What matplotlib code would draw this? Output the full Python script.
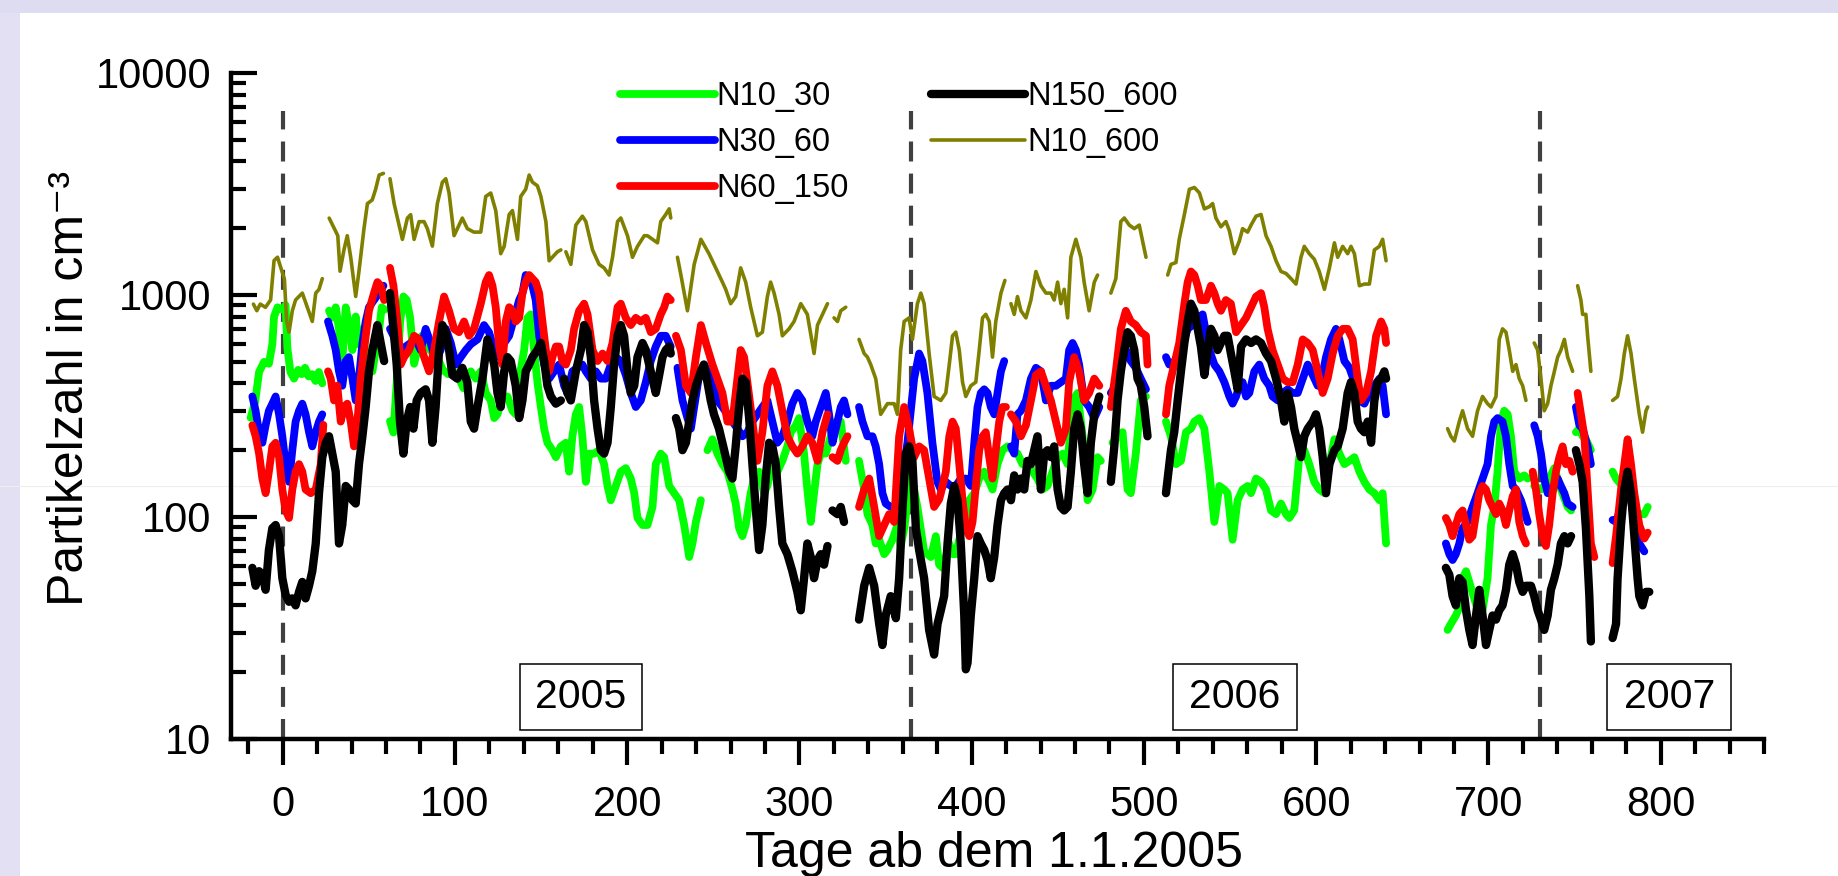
import numpy as np
import matplotlib
matplotlib.use("Agg")
import matplotlib.pyplot as plt
from matplotlib.ticker import MultipleLocator, LogLocator, NullFormatter
from matplotlib.patches import Rectangle
from matplotlib.lines import Line2D
import matplotlib.transforms as mtransforms

nan = np.nan

# ---- data: (day since 1.1.2005, particles per cm^3); nan = gap ----
n10_30 = [
    (-18.6, 280), (-16, 330), (-13.7, 450), (-10.8, 500), (-8, 490), (-6, 600), (-5, 800), (-3, 880), (0, 860),
    (1.7, 900), (2.7, 580), (4.5, 450), (6.6, 420), (9, 460), (11, 440), (13, 470), (15, 430), (17, 440),
    (19, 410), (21, 450), (23, 400), (25, nan),
    (26.9, 850), (28.8, 790), (30.8, 880), (32.7, 700), (34.6, 500), (36.6, 880), (38.5, 730), (40.5, 565),
    (42.4, 800), (44, 600), (46, 700), (48, 560), (50, 500), (52.1, 453), (54, 560), (56, 700), (57.5, 880),
    (59.2, 860), (60.5, nan),
    (62.3, 270), (64.3, 240), (66.2, 405), (68.2, 760), (70.1, 985), (72, 950), (74, 790), (76.3, 490),
    (78.2, 565), (80.8, 655), (83, 600), (86, 560), (88, 580), (90, 520), (93, 460), (96, 440), (99.5, 450),
    (102.4, 420), (105, 380), (107.3, 440), (109.2, 453), (112.1, 420), (115, 453), (117.9, 362), (120.8, 335),
    (122.8, 279), (124.7, 290), (127.6, 349), (130.5, 349), (133.4, 301), (135.3, 290), (137.3, 420),
    (140.2, 565), (142.1, 789), (144, 818), (146, 565), (147.9, 405), (149.9, 313), (151.8, 250), (153.7, 216),
    (156.6, 200), (158.6, 186), (161.5, 208), (164.4, 216), (166.3, 160), (168.2, 231), (170.2, 290),
    (172.1, 313), (174, 231), (176, 144), (177.9, 193), (180.8, 193), (183.7, 200), (186.6, 173), (188.6, 138),
    (190.5, 119), (193.4, 138), (196.3, 160), (199.2, 166), (202.1, 149), (204.1, 128), (206, 99), (208.9, 92),
    (211.8, 92), (214.7, 111), (216.6, 173), (219.5, 193), (221.5, 186), (224.4, 138), (227.3, 128),
    (230.2, 119), (233.1, 92), (236, 66), (237.9, 76), (239.9, 95), (242.8, 119), (244.5, nan),
    (246.6, 200), (249.5, 224), (252.4, 193), (255.3, 173), (258.2, 160), (261.1, 133), (263, 115), (265, 89),
    (266.9, 82), (268.8, 92), (271.7, 128), (273.7, 149), (276.6, 160), (279.5, 128), (281.4, 138),
    (284.3, 173), (287.2, 160), (290.1, 179), (293, 208), (295, 241), (297.9, 259), (299.8, 279), (302.7, 193),
    (304.6, 133), (306.6, 95), (308.5, 128), (310.5, 173), (312.4, 193), (315.3, 193), (318.2, 231),
    (321.1, 269), (324, 269), (326.9, 179), (330, nan),
    (334.6, 179), (337.6, 133), (339.5, 103), (342.4, 92), (344.3, 76), (346.3, 79), (349.2, 68), (351.1, 71),
    (354, 79), (356.9, 92), (358.8, 74), (361, 90), (364.6, 160), (368.5, 111), (372.4, 70), (376.3, 66),
    (379.2, 82), (381.1, 61), (383.1, 59), (385, 66), (387, 76), (388.9, 68), (390.8, 68), (392.8, 79),
    (395.7, 95), (398.6, 119), (401.5, 128), (404.4, 149), (407.3, 160), (410.2, 144), (412.1, 133), (415, 173),
    (417.9, 200), (420.8, 208), (423.7, 200), (426.6, 193), (429.5, 173), (432.4, 179), (435.3, 160),
    (438.2, 149), (441.1, 133), (444, 138), (447, 160), (449.9, 186), (452.8, 193), (455.7, 173), (458.6, 335),
    (461.5, 362), (464.4, 231), (467.3, 119), (470.2, 133), (473.1, 186), (475, 179), (478, nan),
    (481.8, 216), (484.7, 231), (487.6, 241), (490.5, 133), (492.4, 128), (495.3, 193), (498.2, 335),
    (501.2, 349), (507, nan),
    (512.8, 269), (515.7, 231), (518.6, 173), (521.5, 179), (524.4, 241), (527.3, 250), (529.3, 269),
    (532.2, 279), (535.1, 250), (538, 160), (540.9, 95), (543.8, 138), (546.7, 133), (548.6, 128), (551.5, 79),
    (554.4, 119), (557.3, 133), (560.2, 138), (562.2, 128), (565.1, 149), (568, 144), (570.9, 133),
    (573.8, 107), (576.7, 103), (579.6, 115), (582.5, 103), (584.4, 99), (587.3, 107), (590.2, 186),
    (593.1, 200), (596, 173), (598.9, 144), (601.8, 133), (604.8, 128), (607.7, 173), (610.6, 224),
    (613.5, 193), (616.4, 173), (619.3, 179), (622.2, 186), (625.1, 160), (628, 144), (630.9, 133),
    (633.8, 128), (636.7, 119), (638.6, 128), (640.6, 76), (660, nan),
    (676.3, 31), (678.2, 33), (681.1, 36), (683.1, 39), (685, 53), (687, 57), (689.9, 48), (693, 40),
    (696.6, 38), (699.5, 53), (701.5, 92), (703.4, 111), (705.3, 160), (707.3, 269), (709.2, 301),
    (711.2, 290), (713.1, 231), (715, 160), (717.9, 149), (720.8, 154), (722.8, 149), (724.5, nan),
    (726.6, 138), (730.5, 133), (734.4, 144), (738.3, 166), (742.1, 133), (746, 111), (748, 107), (750, nan),
    (750.8, 241), (752.8, 250), (754.7, 231), (756.6, 224), (759.5, 200), (765, nan),
    (772.1, 160), (774.1, 149), (777, 140), (780, 130), (783, 120), (786.6, 103), (790.5, 103), (792.5, 111),
]

n30_60 = [
    (-17.6, 349), (-15.7, 301), (-13.7, 241), (-11.8, 216), (-9.9, 259), (-8, 301), (-6, 324), (-4.1, 349),
    (-2.1, 290), (-0.2, 231), (1.7, 173), (3.7, 144), (5.6, 200), (7.5, 269), (9.5, 301), (11.4, 324),
    (13.3, 290), (15.3, 241), (17.2, 208), (19.2, 241), (21.1, 269), (23, 290), (25, nan),
    (26.3, 760), (28.8, 655), (30.8, 565), (32.7, 453), (34.6, 390), (36.6, 504), (38.5, 525), (40.5, 420),
    (42.4, 335), (44.3, 420), (46.3, 608), (48.2, 760), (50.1, 881), (53, 949), (55.9, 1020), (58.5, 1101),
    (60.5, nan),
    (62.3, 704), (64.3, 655), (66.6, 565), (69.5, 545), (71.4, 586), (74.3, 608), (77.2, 631), (80.1, 565),
    (83, 704), (85.9, 608), (88.8, 504), (91.7, 565), (94.7, 704), (97.6, 608), (100.5, 486), (103.4, 525),
    (106.3, 565), (109.2, 600), (113.1, 631), (116.9, 732), (119.8, 680), (122.8, 565), (125.7, 525),
    (128.6, 608), (131.5, 655), (134.4, 789), (137.3, 949), (139.2, 1020), (141.1, 1230), (143.1, 1185),
    (145, 1101), (146.9, 949), (148.9, 655), (151.8, 486), (154.7, 420), (157.6, 453), (160.5, 486),
    (163.4, 390), (165.3, 362), (168.2, 453), (171.1, 470), (174, 486), (176, 453), (178.9, 420), (181.8, 453),
    (184.7, 420), (187.6, 420), (190.5, 486), (193.4, 525), (196.3, 504), (199.2, 436), (202.1, 362), (205, 313),
    (207.9, 335), (210.8, 405), (213.7, 504), (216.6, 586), (219.5, 655), (222.4, 655), (225.3, 586),
    (227, nan),
    (229.2, 470), (232.1, 335), (235, 279), (237, 250), (238.9, 313), (241.8, 436), (244.7, 486), (248.6, 420),
    (252.4, 335), (255.3, 313), (258.2, 290), (261.1, 269), (264, 250), (266.9, 231), (269.8, 241),
    (272.7, 269), (275.6, 290), (278.5, 313), (281.4, 335), (284.3, 269), (287.2, 216), (290.1, 231),
    (293, 269), (295.9, 324), (298.8, 362), (301.7, 335), (304.6, 269), (307.5, 231), (309.5, 269),
    (312.4, 313), (315.3, 362), (317.2, 290), (319.2, 216), (322.1, 269), (324, 313), (325.9, 335),
    (327.9, 290), (330, nan),
    (334.6, 313), (336.6, 269), (339.5, 231), (342.4, 231), (344.3, 208), (346.3, 173), (348.2, 128),
    (350.1, 115), (353, 111), (356, 111), (358.8, 133), (362.7, 216), (366.6, 420), (369.5, 545), (371.4, 504),
    (374.3, 362), (377.2, 216), (380.1, 144), (382.1, 133), (385, 144), (387.9, 138), (390.8, 138),
    (393.7, 149), (396.6, 149), (399.5, 138), (401.5, 216), (403.4, 313), (405.3, 362), (407.3, 376),
    (409.2, 362), (411.1, 313), (413.1, 290), (415, 362), (417, 453), (418.9, 504), (420.8, nan),
    (422.8, 208), (424.7, 193), (426.6, 290), (428.6, 301), (431.5, 335), (434.4, 420), (437.3, 470),
    (440.2, 453), (443.1, 335), (446, 390), (448.9, 390), (451.8, 405), (454.7, 420), (456.6, 565),
    (458.6, 608), (460.5, 565), (462.4, 486), (465.3, 335), (468.2, 313), (471.2, 279), (474.1, 313),
    (478, nan),
    (480.8, 362), (483.7, 390), (486.6, 486), (489.5, 565), (492.4, 504), (495.3, 470), (498.2, 420),
    (501.2, 376), (507, nan),
    (512.8, 525), (514.7, 486), (517.6, 500), (521.5, 565), (525.4, 704), (528.3, 732), (531.2, 789),
    (534.1, 818), (536, 680), (538, 565), (540.9, 486), (543.8, 453), (546.7, 405), (549.6, 349), (551.5, 324),
    (553.5, 349), (555.4, 390), (557.3, 405), (559.3, 349), (561.2, 362), (564.1, 453), (567, 486),
    (569.9, 420), (572.8, 390), (574.7, 349), (577.7, 335), (580.6, 362), (583.5, 376), (586.4, 362),
    (589.3, 362), (592.2, 420), (595.1, 486), (598, 436), (600.9, 390), (602.8, 405), (605.7, 525),
    (608.6, 631), (611.5, 704), (613.5, 631), (616.4, 504), (619.3, 470), (622.2, 405), (625.1, 335),
    (628, 324), (630.9, 362), (633.8, 390), (636.7, 420), (638.6, 390), (640.6, 290), (660, nan),
    (675.3, 76), (677.3, 68), (679.2, 64), (681.1, 68), (683.1, 76), (685, 89), (687.9, 95), (690.8, 111),
    (693.7, 128), (696.6, 149), (699.5, 173), (701.5, 231), (703.4, 269), (705.3, 279), (708.2, 269),
    (710.2, 231), (712.1, 173), (714.1, 138), (716, 133), (718.9, 119), (720.8, 107), (722.8, 95),
    (724.5, nan),
    (726.6, 259), (728.6, 231), (730.5, 193), (732.4, 149), (734.4, 128), (736.3, 128), (738.3, 138),
    (740.2, 149), (742.1, 138), (744.1, 128), (746, 115), (748.9, 111), (750, nan),
    (750.8, 313), (752.8, 259), (754.7, 250), (757.6, 208), (759.5, 173), (765, nan),
    (772.1, 97), (774.1, 95), (777, 111), (778.9, 128), (780.8, 160), (782.8, 119), (784.7, 95), (787.6, 76),
    (790.5, 70),
]

n60_150 = [
    (-17.6, 259), (-15.7, 231), (-13.7, 193), (-11.8, 149), (-9.9, 128), (-8, 160), (-6, 208), (-4.1, 216),
    (-2.1, 186), (-0.2, 133), (1.7, 107), (3.7, 99), (5.6, 133), (7.5, 160), (9.5, 173), (11.4, 160),
    (13.3, 133), (16.3, 128), (19.2, 133), (22.1, 173), (23.6, 260), (25, nan),
    (26.3, 453), (27.9, 420), (29.8, 335), (31.7, 390), (33.7, 269), (35.6, 313), (37.5, 324), (39.5, 269),
    (41.4, 208), (43.4, 269), (45.3, 420), (47.2, 565), (50.1, 849), (53, 1020), (55, 1143), (56.9, 1101),
    (58.9, 949), (60.5, nan),
    (62.3, 1325), (64.3, 1101), (66.6, 760), (68.5, 486), (70.5, 525), (73.4, 565), (76.3, 655), (79.2, 631),
    (82.1, 525), (85, 453), (87.9, 565), (90.8, 760), (93.7, 984), (96.6, 849), (99.5, 704), (102.4, 680),
    (105.3, 760), (108.2, 655), (111.1, 704), (115, 914), (117.9, 1143), (119.8, 1230), (121.8, 1101),
    (123.7, 881), (125.7, 586), (127.6, 486), (129.5, 760), (131.5, 881), (133.4, 849), (135.3, 760),
    (137.3, 789), (139.2, 1020), (141.1, 1143), (143.1, 1230), (145, 1185), (146.9, 1143), (148.9, 1020),
    (150.8, 760), (152.8, 565), (154.7, 453), (156.6, 525), (158.6, 586), (160.5, 586), (162.4, 504),
    (164.4, 486), (167.3, 565), (169.2, 704), (172.1, 849), (175, 914), (177, 818), (179.9, 565), (182.8, 504),
    (185.7, 545), (188.6, 504), (191.5, 608), (194.4, 881), (196.3, 914), (199.2, 789), (202.1, 732),
    (205, 789), (207.9, 760), (210.8, 789), (213.7, 680), (216.6, 704), (219.5, 818), (221.5, 881),
    (223.4, 984), (225.3, 949), (227, nan),
    (228.3, 655), (231.2, 565), (234.1, 390), (237, 362), (239.9, 525), (242.8, 732), (245.7, 608),
    (249.5, 486), (252.4, 420), (255.3, 362), (258.2, 269), (261.1, 269), (264, 420), (265.9, 565),
    (267.9, 525), (269.8, 405), (272.7, 269), (275.6, 179), (278.5, 241), (281.4, 390), (284.3, 453),
    (287.2, 390), (290.1, 301), (293, 231), (295.9, 208), (298.8, 193), (301.7, 208), (304.6, 231),
    (307.5, 216), (310.5, 179), (313.4, 241), (316.3, 290), (317.8, nan),
    (319.2, 186), (322.1, 179), (324, 200), (325.9, 216), (327.9, 231), (330, nan),
    (334.6, 111), (337.6, 133), (340.5, 149), (343.4, 111), (346.3, 82), (349.2, 92), (352.1, 103),
    (355, 95), (357.9, 231), (360.8, 313), (363.7, 250), (366.6, 186), (369.5, 208), (372.4, 200),
    (375.3, 149), (378.2, 111), (381.1, 120), (382.1, 128), (385, 160), (387, 231), (388.9, 269), (390.8, 250),
    (392.8, 173), (394.7, 119), (396.6, 89), (398.6, 82), (400.5, 95), (402.4, 138), (404.4, 200),
    (406.3, 231), (408.2, 241), (410.2, 186), (412.1, 149), (414, 200), (416, 269), (417.9, 313),
    (419.9, 313), (421, nan),
    (422.8, 290), (425.7, 269), (428.6, 231), (431.5, 259), (434.4, 335), (437.3, 436), (440.2, 453),
    (443.1, 390), (446, 335), (448.9, 269), (451.8, 216), (454.7, 250), (456.6, 405), (459.5, 525),
    (462.4, 453), (465.3, 335), (468.2, 362), (471.2, 420), (474.1, 390), (478, nan),
    (480.8, 313), (483.7, 453), (486.6, 704), (489.5, 849), (492.4, 760), (495.3, 732), (498.2, 680),
    (501.2, 655), (502.1, 486), (507, nan),
    (512.8, 290), (514.7, 390), (517.6, 486), (520.5, 608), (523.5, 914), (525.4, 1143), (527.3, 1276),
    (529.3, 1230), (531.2, 1101), (533.1, 949), (536, 949), (538.9, 1101), (540.9, 1020), (542.8, 914),
    (544.7, 849), (547.6, 949), (550.5, 914), (553.5, 680), (556.4, 732), (559.3, 789), (562.2, 881),
    (565.1, 984), (568, 1020), (569.9, 881), (571.8, 704), (574.7, 565), (577.7, 486), (580.6, 420),
    (583.5, 405), (586.4, 405), (589.3, 486), (592.2, 631), (595.1, 608), (598, 565), (600.9, 453),
    (603.8, 362), (606.7, 420), (609.6, 545), (612.5, 655), (615.4, 704), (618.3, 704), (621.2, 631),
    (624.1, 420), (626, 335), (629, 362), (631.9, 453), (634.8, 655), (637.7, 760), (639.6, 704),
    (640.6, 608), (660, nan),
    (675.3, 99), (677.3, 92), (679.2, 82), (681.1, 92), (683.1, 103), (685, 107), (687, 92), (688.9, 79),
    (690.8, 82), (692.8, 103), (694.7, 128), (696.6, 138), (698.6, 133), (700.5, 119), (702.4, 111),
    (704.4, 103), (706.3, 115), (708.2, 107), (710.2, 92), (712.1, 107), (714.1, 124), (716, 133),
    (717.9, 95), (719.9, 82), (721.8, 76), (724, nan),
    (725.7, 160), (727.6, 133), (729.5, 103), (731.5, 82), (733.4, 74), (735.3, 92), (737.3, 128),
    (739.2, 160), (741.2, 186), (743.1, 208), (745, 173), (747, 179), (748.9, 160), (750, nan),
    (751.8, 362), (753.7, 290), (755.7, 231), (757.6, 133), (759.5, 76), (761.5, 66), (765, nan),
    (772.1, 62), (774.1, 82), (777, 133), (778.9, 173), (780.8, 224), (782.8, 173), (784.7, 128),
    (787.6, 92), (790.5, 80), (792.5, 85),
]

n150_600 = [
    (-17.6, 59), (-15.7, 49), (-13.7, 57), (-11.8, 55), (-9.9, 47), (-8, 71), (-6, 89), (-4.1, 92),
    (-2.1, 82), (-0.2, 53), (1.7, 44.6), (3.7, 41.5), (5.6, 43), (7.5, 40), (9.5, 46), (11.4, 51), (13.3, 43),
    (15.3, 49), (17.2, 57), (19.2, 76), (21.1, 128), (23, 186), (25, 216), (26.9, 231), (28.8, 193),
    (30.8, 160), (32.7, 76), (34.6, 92), (36.6, 138), (38.5, 133), (40.5, 119), (42.4, 115), (44.3, 173),
    (46.3, 231), (48.2, 313), (50.1, 453), (52.1, 565), (55, 732), (56.9, 608), (58.9, 504), (60.5, nan),
    (62.3, 1020), (64.3, 704), (66.2, 486), (68.1, 269), (70.1, 193), (72, 269), (74, 313), (75.9, 250),
    (77.8, 335), (80.1, 362), (83, 376), (85, 335), (86.9, 216), (88.8, 313), (90.8, 565), (92.7, 732),
    (94.7, 680), (96.6, 565), (98.5, 436), (101.4, 420), (104.3, 470), (107.2, 405), (109.2, 269),
    (111.1, 250), (113.1, 313), (116, 420), (118.9, 631), (120.8, 565), (122.8, 486), (124.7, 362),
    (126.6, 313), (128.6, 453), (130.5, 525), (132.4, 504), (135.3, 390), (137.3, 279), (139.2, 335),
    (141.1, 453), (143.1, 486), (145, 525), (147.9, 565), (149.9, 608), (151.8, 504), (153.7, 390),
    (155.7, 349), (158.6, 324), (161.5, 335), (162.5, nan),
    (163.4, 420), (165.3, 362), (167.3, 335), (170.2, 453), (173.1, 565), (175, 732), (177, 680), (178.9, 525),
    (180.8, 335), (182.8, 250), (184.7, 200), (186.6, 193), (188.6, 216), (190.5, 313), (192.4, 486),
    (194.4, 655), (196.3, 732), (198.2, 655), (200.2, 453), (202.1, 362), (204.1, 390), (206, 525),
    (208.9, 608), (210.8, 565), (213.7, 453), (216.6, 362), (218.6, 436), (220.5, 525), (222.4, 565),
    (224.4, 586), (225.3, 545), (227, nan),
    (228.3, 279), (230.2, 250), (232.1, 200), (234.1, 216), (236, 269), (237.9, 335), (239.9, 390),
    (242.8, 453), (244.5, 486), (246.6, 405), (248.5, 335), (250.4, 290), (253.3, 250), (256.3, 200),
    (259.2, 160), (261.1, 149), (263, 208), (265, 313), (266.9, 420), (268.8, 405), (270.8, 279),
    (272.7, 173), (274.6, 111), (276.6, 71), (278.5, 92), (280.4, 149), (282.4, 216), (284.3, 208),
    (286.3, 173), (288.2, 111), (290.1, 76), (293, 68), (295.9, 57), (298.8, 46), (300.8, 38), (302.7, 53),
    (304.6, 76), (306.6, 66), (308.5, 53), (310.5, 64), (312.4, 68), (314.3, 61), (316.3, 74), (317.8, nan),
    (319.2, 107), (322.1, 103), (324, 111), (325.9, 95), (330, nan),
    (334.6, 34.5), (337.6, 49), (340.5, 59), (343.4, 49), (346.3, 33), (348.2, 26.5), (350.1, 36), (353, 44),
    (356, 35), (357.9, 53), (359.8, 107), (361.7, 193), (363.7, 208), (365.6, 179), (367.6, 89), (369.5, 71),
    (372.4, 53), (375.3, 31), (378.2, 24), (380.2, 33), (382.1, 38), (384, 44), (386, 76), (387.9, 115),
    (389.9, 138), (391.8, 119), (393.7, 76), (395.7, 36), (396.6, 20.6), (397.6, 22), (399.5, 36),
    (401.5, 53), (403.4, 82), (405.3, 76), (407.3, 71), (409.2, 64), (411.1, 53), (413.1, 66), (415, 92),
    (417, 119), (418.9, 128), (420.8, 133), (422.8, 119), (424.7, 154), (426.6, 133), (428.6, 149),
    (430.5, 133), (432.4, 179), (434.4, 173), (436.3, 200), (438.2, 231), (440.2, 133), (442.1, 193),
    (444, 200), (446, 186), (447.9, 208), (449.9, 133), (451.8, 111), (453.7, 107), (455.7, 111),
    (457.6, 160), (459.5, 250), (461.5, 290), (463.4, 250), (465.3, 173), (467.3, 128), (469.2, 216),
    (471.2, 290), (474.1, 349), (477, nan),
    (480.8, 144), (482.8, 208), (484.7, 335), (486.6, 453), (488.6, 565), (490.5, 680), (492.4, 655),
    (494.4, 565), (496.3, 420), (498.2, 390), (500.2, 313), (502.1, 231), (507, nan),
    (512.8, 128), (515.7, 200), (517.6, 241), (519.6, 335), (521.5, 453), (523.5, 608), (525.4, 760),
    (527.3, 914), (529.3, 849), (531.2, 704), (533.1, 586), (535.1, 436), (537, 565), (538.9, 704),
    (540.9, 655), (542.8, 565), (544.7, 608), (546.7, 655), (548.6, 655), (550.5, 545), (552.5, 453),
    (554.4, 376), (556.4, 586), (559.3, 631), (562.2, 608), (565.1, 631), (568, 608), (570.9, 545),
    (573.8, 504), (576.7, 420), (579.6, 335), (581.5, 269), (583.5, 362), (585.4, 313), (587.3, 250),
    (589.3, 216), (591.2, 186), (593.1, 231), (595.1, 250), (598, 269), (599.9, 290), (601.8, 250),
    (603.8, 186), (605.7, 128), (607.7, 173), (610.6, 200), (612.5, 208), (615.4, 250), (618.3, 362),
    (620.2, 405), (622.2, 362), (624.1, 269), (626, 250), (628, 241), (629.9, 269), (631.9, 216),
    (633.8, 335), (635.7, 405), (637.7, 420), (639.6, 453), (640.6, 420), (660, nan),
    (675.3, 59), (677.3, 55), (679.2, 44), (681.1, 40), (683.1, 53), (685, 51), (687, 38), (688.9, 31),
    (690.8, 26.5), (692.8, 36), (694.7, 47), (696.6, 36), (698.6, 26.5), (700.5, 31), (702.4, 36),
    (704.4, 34.5), (706.3, 38), (708.2, 40), (710.2, 47), (712.1, 61), (714.1, 68), (716, 61), (717.9, 51),
    (719.9, 46), (721.8, 49), (724.7, 49), (726.6, 44), (728.6, 38), (730.5, 34.5), (732.4, 31), (734.4, 36),
    (736.3, 47), (738.3, 53), (740.2, 61), (742.1, 76), (744.1, 82), (746, 76), (748, 82), (750, nan),
    (750.8, 200), (752.8, 173), (754.7, 144), (756.6, 89), (758.6, 44), (759.5, 27.5), (765, nan),
    (772.1, 28.5), (774.1, 33), (775, 53), (777, 92), (778.9, 133), (780.8, 160), (782.8, 128), (784.7, 82),
    (786.6, 53), (787.6, 44), (789.5, 40), (791.5, 46), (793.4, 46),
]

n10_600 = [
    (-17, 910), (-15, 850), (-13, 910), (-10, 880), (-7, 950), (-5, 1430), (-3, 1480), (-1, 1320), (1, 1180),
    (2.3, 760), (3.7, 680), (5.6, 850), (7.5, 950), (9.5, 985), (11.4, 1020), (14.3, 880), (17.2, 760),
    (19.2, 1020), (21.1, 1060), (23, 1185), (25, nan),
    (27, 2220), (30, 1990), (32, 1850), (33.3, 1280), (35.6, 1600), (37.5, 1850), (39.5, 1480), (42.4, 985),
    (44.3, 1280), (47.2, 1990), (49.2, 2580), (52, 2680), (54, 3000), (56, 3470), (58.5, 3530), (60, nan),
    (62.3, 3340), (64.7, 2580), (67.6, 2065), (69.5, 1780), (72.4, 2220), (74.3, 2300), (76.3, 1780),
    (79.2, 2140), (82.1, 2140), (84, 1990), (86.9, 1660), (89.8, 2580), (92.7, 3220), (94.7, 3340),
    (96.6, 2880), (99.5, 1850), (102.4, 2065), (104.3, 2220), (107.2, 1990), (111, 1920), (115, 1920),
    (117.9, 2780), (120.8, 2880), (123.7, 2400), (126.6, 1535), (128.6, 1656), (131.5, 2306), (133.4, 2400),
    (136.3, 1780), (138.2, 2780), (141.1, 2994), (143.1, 3470), (145, 3223), (147.9, 3104), (149.9, 2780),
    (152.8, 2142), (154.7, 1426), (156.6, 1479), (159.5, 1566), (161.5, 1596), (163, nan),
    (164.4, 1566), (167.3, 1374), (170.2, 2065), (174, 2265), (176, 2142), (179.9, 1596), (183.7, 1374),
    (186.6, 1325), (189.5, 1230), (191.5, 1479), (194.4, 2142), (196.3, 2223), (200.2, 1849), (203.1, 1479),
    (206, 1656), (209.9, 1849), (211.8, 1849), (214.7, 1782), (217.6, 1718), (219.5, 2142), (222.4, 2306),
    (224.4, 2444), (225.3, 2223), (227, nan),
    (229.2, 1479), (231.2, 1230), (235, 849), (238.9, 1374), (242.8, 1782), (247.5, 1535), (251.4, 1325),
    (255.3, 1143), (257.2, 1061), (260.1, 914), (263, 984), (265.9, 1325), (268.8, 1143), (271.7, 881),
    (275.6, 655), (278.5, 680), (281.4, 984), (283.3, 1143), (285.3, 1020), (288.2, 818), (290.1, 655),
    (294, 704), (296.9, 760), (300.8, 914), (304.6, 818), (308.5, 545), (310.5, 732), (313.4, 818),
    (316.3, 914), (318, nan),
    (320.1, 789), (322.1, 760), (324, 849), (326.9, 881), (330, nan),
    (334.6, 631), (337.6, 545), (339.5, 525), (341.4, 486), (344.3, 420), (347.2, 290), (351.1, 324),
    (355, 324), (356.9, 290), (358.8, 565), (360.8, 760), (363.7, 789), (365.6, 631), (368.5, 914),
    (370.5, 1020), (372.4, 914), (375.3, 545), (378.2, 349), (382.1, 335), (385, 362), (387, 486),
    (388.9, 655), (390.8, 680), (392.8, 565), (394.7, 405), (396.6, 349), (399.5, 390), (402.4, 405),
    (404.4, 565), (406.3, 789), (408.2, 818), (410.2, 760), (412.1, 525), (414, 760), (417, 1020),
    (419.3, 1163), (421, nan),
    (422.8, 914), (424.7, 818), (426.6, 984), (428.6, 849), (431.5, 789), (434.4, 949), (437.3, 1276),
    (440.2, 1101), (443.1, 1020), (446, 1020), (447.9, 949), (449.9, 1143), (451.8, 914), (453.7, 1061),
    (455.7, 789), (457.6, 1479), (460.5, 1782), (463.4, 1479), (465.3, 1143), (468.2, 849), (471.2, 1143),
    (473.1, 1230), (477, nan),
    (480.8, 1020), (483.7, 1185), (486.6, 2142), (488.6, 2223), (491.5, 2065), (494.4, 1990), (497.3, 2065),
    (501.2, 1479), (507, nan),
    (513.8, 1230), (515.7, 1374), (518.6, 1400), (520.5, 1782), (523.5, 2306), (526.4, 2994), (529.3, 3050),
    (532.2, 2884), (535.1, 2444), (538, 2500), (539.9, 2582), (541.8, 2223), (544.7, 2028), (547.6, 2142),
    (549.6, 1950), (552.5, 1535), (555.4, 1750), (557.3, 1990), (560.2, 1919), (562.2, 2065), (565.1, 2265),
    (568, 2306), (570.9, 1849), (573.8, 1656), (576.7, 1426), (579.6, 1276), (582.5, 1250), (585.4, 1185),
    (588.3, 1120), (591.2, 1479), (593.1, 1656), (596, 1535), (598.9, 1450), (601.8, 1276), (604.8, 1061),
    (607.7, 1325), (610.6, 1718), (612.5, 1479), (615.4, 1656), (618.3, 1535), (620.2, 1656), (622.2, 1535),
    (625.1, 1101), (628, 1120), (630.9, 1120), (633.8, 1596), (636.7, 1656), (638.6, 1782), (640.6, 1426),
    (660, nan),
    (676.3, 250), (678.2, 231), (680.2, 220), (683.1, 269), (685, 301), (687.9, 250), (690.8, 231),
    (693.7, 301), (696.6, 349), (699.5, 324), (701.5, 313), (704.4, 349), (706.3, 631), (708.2, 704),
    (710.2, 680), (712.1, 565), (714.1, 453), (716, 486), (717.9, 420), (719.9, 390), (721.8, 335),
    (724, nan),
    (726.6, 608), (728.6, 565), (730.5, 420), (732.4, 301), (734.4, 324), (736.3, 390), (738.3, 453),
    (740.2, 525), (742.1, 565), (744.1, 631), (746, 525), (748.9, 453), (750.5, nan),
    (751.8, 1101), (753.7, 949), (754.7, 818), (756.6, 818), (757.6, 655), (759.5, 453), (765, nan),
    (772.1, 335), (775, 349), (777, 420), (778.9, 545), (780.8, 655), (782.8, 545), (784.7, 420),
    (787.6, 290), (789.5, 241), (791.5, 301), (792.5, 313),
]

series_labels = ["N10_30", "N30_60", "N60_150", "N150_600", "N10_600"]
series_data = [n10_30, n30_60, n60_150, n150_600, n10_600]
series_colors = ["#00ff00", "#0000ff", "#ff0000", "#000000", "#808000"]
series_widths = [5.6, 5.6, 5.6, 6.0, 2.6]

year_starts = [0, 365, 730]
year_boxes = [("2005", 137.8, 208.6), ("2006", 517.0, 588.6), ("2007", 769.0, 841.0)]

plt.rcParams["font.family"] = ["Liberation Sans", "DejaVu Sans"]

fig = plt.figure(figsize=(18.38, 8.76), dpi=100)
fig.patch.set_facecolor("white")

# slide background strips
fig.add_artist(Rectangle((0, 0), 20 / 1838, 1, transform=fig.transFigure,
                         facecolor="#e2e0f2", edgecolor="none", zorder=0))
fig.add_artist(Rectangle((0, 1 - 13 / 876), 1, 13 / 876, transform=fig.transFigure,
                         facecolor="#dedcf0", edgecolor="none", zorder=0))
fig.add_artist(Line2D([0, 1], [1 - 486 / 876] * 2, transform=fig.transFigure,
                      color="#eeeeee", lw=0.8, zorder=0))

ax = fig.add_axes([231 / 1838, 1 - 739 / 876, (1764 - 231) / 1838, (739 - 73) / 876])
ax.patch.set_alpha(0)

for data, lab, col, lw in zip(series_data, series_labels, series_colors, series_widths):
    d = np.array(data, dtype=float)
    ax.plot(d[:, 0], d[:, 1], color=col, lw=lw, label=lab,
            solid_capstyle="round", solid_joinstyle="round", zorder=3)

for ys in year_starts:
    ax.plot([ys, ys], [10, 6750], color="#404040", lw=3.0, dashes=(4.8, 2.9), zorder=2)

trans = mtransforms.blended_transform_factory(ax.transData, ax.transAxes)
for txt, x0, x1 in year_boxes:
    ax.add_patch(Rectangle((x0, 0.013), x1 - x0, 0.099, transform=trans,
                           facecolor="white", edgecolor="black", lw=1.1, zorder=4))
    ax.text((x0 + x1) / 2, 0.0625, txt, transform=trans, ha="center", va="center",
            fontsize=29.5, zorder=5)

ax.set_yscale("log")
ax.set_ylim(10, 10000)
ax.set_xlim(-30, 860)

ax.spines["top"].set_visible(False)
ax.spines["right"].set_visible(False)
ax.spines["left"].set_linewidth(3.2)
ax.spines["bottom"].set_linewidth(3.2)

ax.xaxis.set_major_locator(MultipleLocator(100))
ax.xaxis.set_minor_locator(MultipleLocator(20))
ax.set_xticks(range(0, 900, 100))
ax.set_xticklabels([str(v) for v in range(0, 900, 100)])
ax.tick_params(axis="x", which="major", direction="out", length=19, width=3.0,
               labelsize=30, pad=14)
ax.tick_params(axis="x", which="minor", direction="out", length=11, width=3.0)

ax.yaxis.set_major_locator(LogLocator(base=10, numticks=10))
ax.yaxis.set_minor_locator(LogLocator(base=10, subs=np.arange(2, 10), numticks=10))
ax.yaxis.set_minor_formatter(NullFormatter())
ax.set_yticks([10, 100, 1000, 10000])
ax.set_yticklabels(["10", "100", "1000", "10000"])
ax.tick_params(axis="y", which="major", direction="in", length=19, width=3.0,
               labelsize=30, pad=14)
ax.tick_params(axis="y", which="minor", direction="in", length=11, width=3.0)

ax.set_xlabel("Tage ab dem 1.1.2005", fontsize=36)
ax.xaxis.set_label_coords(0.498, -0.138)
ax.set_ylabel("Partikelzahl in cm\u207b\u00b3", fontsize=36)
ax.yaxis.set_label_coords(-0.09, 0.527)

leg = ax.legend(loc="upper left", bbox_to_anchor=(0.254, 0.988), ncol=2, frameon=False,
                fontsize=23.5, handlelength=2.9, handletextpad=0.05, labelspacing=0.46,
                columnspacing=2.5, borderpad=0, borderaxespad=0)

fig.savefig("out.png", dpi=100, facecolor=fig.get_facecolor())
